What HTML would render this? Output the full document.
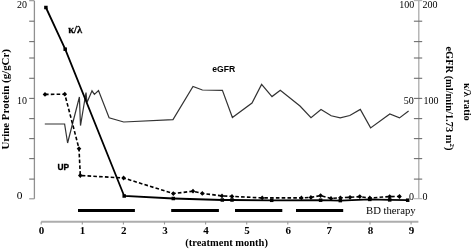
<!DOCTYPE html>
<html><head><meta charset="utf-8"><style>
html,body{margin:0;padding:0;background:#fff;width:472px;height:250px;overflow:hidden}
svg{display:block}
</style></head><body>
<svg width="472" height="250" viewBox="0 0 472 250">
<path d="M34.4 0.9V198.8" stroke="#909090" stroke-width="1.3" fill="none"/>
<path d="M29.2 0.7H34.4" stroke="#909090" stroke-width="1.1"/>
<path d="M29.2 21.2H34.4" stroke="#6e6e6e" stroke-width="1.1"/>
<path d="M29.2 41.6H34.4" stroke="#6e6e6e" stroke-width="1.1"/>
<path d="M29.2 58.0H34.4" stroke="#6e6e6e" stroke-width="1.1"/>
<path d="M29.2 78.3H34.4" stroke="#6e6e6e" stroke-width="1.1"/>
<path d="M29.2 98.4H34.4" stroke="#6e6e6e" stroke-width="1.1"/>
<path d="M29.2 118.6H34.4" stroke="#6e6e6e" stroke-width="1.1"/>
<path d="M29.2 138.6H34.4" stroke="#6e6e6e" stroke-width="1.1"/>
<path d="M29.2 158.6H34.4" stroke="#6e6e6e" stroke-width="1.1"/>
<path d="M29.2 179.1H34.4" stroke="#6e6e6e" stroke-width="1.1"/>
<path d="M29.2 198.8H34.4" stroke="#909090" stroke-width="1.1"/>
<path d="M418.8 0.9V198.8" stroke="#ababab" stroke-width="1.3" fill="none"/>
<path d="M413.9 0.6H422.2" stroke="#b0b0b0" stroke-width="1.1"/>
<path d="M413.9 21.2H422.2" stroke="#6e6e6e" stroke-width="1.1"/>
<path d="M413.9 41.6H422.2" stroke="#6e6e6e" stroke-width="1.1"/>
<path d="M413.9 58.0H422.2" stroke="#6e6e6e" stroke-width="1.1"/>
<path d="M413.9 78.3H422.2" stroke="#6e6e6e" stroke-width="1.1"/>
<path d="M413.9 98.4H422.2" stroke="#6e6e6e" stroke-width="1.1"/>
<path d="M413.9 118.6H422.2" stroke="#6e6e6e" stroke-width="1.1"/>
<path d="M413.9 138.6H422.2" stroke="#6e6e6e" stroke-width="1.1"/>
<path d="M413.9 158.6H422.2" stroke="#6e6e6e" stroke-width="1.1"/>
<path d="M413.9 179.1H422.2" stroke="#6e6e6e" stroke-width="1.1"/>
<path d="M413.9 198.7H422.2" stroke="#b0b0b0" stroke-width="1.1"/>
<path d="M41.2 221.8H418.4" stroke="#adadad" stroke-width="1.9"/>
<path d="M41.2 221.8V224.5" stroke="#9a9a9a" stroke-width="1.1"/>
<path d="M82.3 221.8V224.5" stroke="#9a9a9a" stroke-width="1.1"/>
<path d="M123.4 221.8V224.5" stroke="#9a9a9a" stroke-width="1.1"/>
<path d="M164.5 221.8V224.5" stroke="#9a9a9a" stroke-width="1.1"/>
<path d="M205.6 221.8V224.5" stroke="#9a9a9a" stroke-width="1.1"/>
<path d="M246.7 221.8V224.5" stroke="#9a9a9a" stroke-width="1.1"/>
<path d="M287.8 221.8V224.5" stroke="#9a9a9a" stroke-width="1.1"/>
<path d="M328.9 221.8V224.5" stroke="#9a9a9a" stroke-width="1.1"/>
<path d="M370.0 221.8V224.5" stroke="#9a9a9a" stroke-width="1.1"/>
<path d="M411.1 221.8V224.5" stroke="#9a9a9a" stroke-width="1.1"/>
<rect x="78" y="209" width="56.9" height="3" fill="#000"/>
<rect x="171.2" y="209" width="47.7" height="3" fill="#000"/>
<rect x="235" y="209" width="47.3" height="3" fill="#000"/>
<rect x="296" y="209" width="47.2" height="3" fill="#000"/>
<polyline points="44.8,124 64.6,124 67.6,143 79.4,97 80.5,125.6 86,92.5 87,102.5 92,90.8 94.4,94.4 98.5,90.5 109.1,117.8 123.7,122 173,119.6 193,86.4 202.4,90 222.4,90.4 232.4,117.5 252,103 261.6,84.4 272,96.6 280.3,90.2 300,106 311,117.6 321,109.6 331.2,115.8 340.2,117.8 349.8,115.5 360.3,109.4 370.6,127.9 389.8,113.9 399.5,117.9 408.6,111" fill="none" stroke="#333" stroke-width="1.2" stroke-linejoin="miter"/>
<polyline points="45,94.4 64.8,94.2 79,148.7 80.3,175.5 123.6,178 173.3,193.6 193,191.2 202.3,193.4 222,195.9 232,196.4 262.2,197.9 301.4,197.9 310.9,197.4 320.6,195.6 331,198.4 340.4,197.8 350,197.3 359.8,196.6 369.8,198 389.7,196.6 399.5,196.5" fill="none" stroke="#000" stroke-width="1.6" stroke-dasharray="3.6 2.2"/>
<path d="M42.7 94.4L45 92.0L47.3 94.4L45 96.80000000000001Z" fill="#000"/>
<path d="M62.5 94.2L64.8 91.8L67.1 94.2L64.8 96.60000000000001Z" fill="#000"/>
<path d="M76.7 148.7L79 146.29999999999998L81.3 148.7L79 151.1Z" fill="#000"/>
<path d="M78.0 175.5L80.3 173.1L82.6 175.5L80.3 177.9Z" fill="#000"/>
<path d="M121.3 178L123.6 175.6L125.89999999999999 178L123.6 180.4Z" fill="#000"/>
<path d="M171.0 193.6L173.3 191.2L175.60000000000002 193.6L173.3 196.0Z" fill="#000"/>
<path d="M190.7 191.2L193 188.79999999999998L195.3 191.2L193 193.6Z" fill="#000"/>
<path d="M200.0 193.4L202.3 191.0L204.60000000000002 193.4L202.3 195.8Z" fill="#000"/>
<path d="M219.7 195.9L222 193.5L224.3 195.9L222 198.3Z" fill="#000"/>
<path d="M229.7 196.4L232 194.0L234.3 196.4L232 198.8Z" fill="#000"/>
<path d="M259.9 197.9L262.2 195.5L264.5 197.9L262.2 200.3Z" fill="#000"/>
<path d="M299.09999999999997 197.9L301.4 195.5L303.7 197.9L301.4 200.3Z" fill="#000"/>
<path d="M308.59999999999997 197.4L310.9 195.0L313.2 197.4L310.9 199.8Z" fill="#000"/>
<path d="M318.3 195.6L320.6 193.2L322.90000000000003 195.6L320.6 198.0Z" fill="#000"/>
<path d="M328.7 198.4L331 196.0L333.3 198.4L331 200.8Z" fill="#000"/>
<path d="M338.09999999999997 197.8L340.4 195.4L342.7 197.8L340.4 200.20000000000002Z" fill="#000"/>
<path d="M347.7 197.3L350 194.9L352.3 197.3L350 199.70000000000002Z" fill="#000"/>
<path d="M357.5 196.6L359.8 194.2L362.1 196.6L359.8 199.0Z" fill="#000"/>
<path d="M367.5 198L369.8 195.6L372.1 198L369.8 200.4Z" fill="#000"/>
<path d="M387.4 196.6L389.7 194.2L392.0 196.6L389.7 199.0Z" fill="#000"/>
<path d="M397.2 196.5L399.5 194.1L401.8 196.5L399.5 198.9Z" fill="#000"/>
<polyline points="45.9,7.5 65.2,49.2 124.2,196 173.3,198.5 222.3,200 232,200 271.7,200.3 320.6,200.2 340.3,200.6 369.8,199.4 389.7,199.9 407.7,200.2" fill="none" stroke="#000" stroke-width="1.8"/>
<rect x="44.15" y="5.75" width="3.5" height="3.5" fill="#000"/>
<rect x="63.45" y="47.45" width="3.5" height="3.5" fill="#000"/>
<rect x="122.45" y="194.25" width="3.5" height="3.5" fill="#000"/>
<rect x="171.55" y="196.75" width="3.5" height="3.5" fill="#000"/>
<rect x="220.55" y="198.25" width="3.5" height="3.5" fill="#000"/>
<rect x="230.25" y="198.25" width="3.5" height="3.5" fill="#000"/>
<rect x="269.95" y="198.55" width="3.5" height="3.5" fill="#000"/>
<rect x="318.85" y="198.45" width="3.5" height="3.5" fill="#000"/>
<rect x="338.55" y="198.85" width="3.5" height="3.5" fill="#000"/>
<rect x="368.05" y="197.65" width="3.5" height="3.5" fill="#000"/>
<rect x="387.95" y="198.15" width="3.5" height="3.5" fill="#000"/>
<rect x="405.95" y="198.45" width="3.5" height="3.5" fill="#000"/>
<text x="27.0" y="8.3" style="font-family:'Liberation Serif','Times New Roman',serif;font-size:11.4px" text-anchor="end" textLength="10" lengthAdjust="spacingAndGlyphs">20</text>
<text x="27.1" y="103.6" style="font-family:'Liberation Serif','Times New Roman',serif;font-size:11.4px" text-anchor="end" textLength="10" lengthAdjust="spacingAndGlyphs">10</text>
<text x="16.8" y="199.2" style="font-family:'Liberation Serif','Times New Roman',serif;font-size:11.4px" text-anchor="start" >0</text>
<text x="414.2" y="8" style="font-family:'Liberation Serif','Times New Roman',serif;font-size:10px" text-anchor="end" >100</text>
<text x="413.8" y="104" style="font-family:'Liberation Serif','Times New Roman',serif;font-size:10px" text-anchor="end" >50</text>
<text x="414" y="199.9" style="font-family:'Liberation Serif','Times New Roman',serif;font-size:10px" text-anchor="end" >0</text>
<text x="422.6" y="8" style="font-family:'Liberation Serif','Times New Roman',serif;font-size:10px" text-anchor="start" >200</text>
<text x="423.4" y="104" style="font-family:'Liberation Serif','Times New Roman',serif;font-size:10px" text-anchor="start" >100</text>
<text x="422.6" y="199.9" style="font-family:'Liberation Serif','Times New Roman',serif;font-size:10px" text-anchor="start" >0</text>
<text x="41.5" y="233.9" style="font-family:'Liberation Serif','Times New Roman',serif;font-size:11px;font-weight:bold" text-anchor="middle" >0</text>
<text x="82.6" y="233.9" style="font-family:'Liberation Serif','Times New Roman',serif;font-size:11px;font-weight:bold" text-anchor="middle" >1</text>
<text x="123.7" y="233.9" style="font-family:'Liberation Serif','Times New Roman',serif;font-size:11px;font-weight:bold" text-anchor="middle" >2</text>
<text x="164.9" y="233.9" style="font-family:'Liberation Serif','Times New Roman',serif;font-size:11px;font-weight:bold" text-anchor="middle" >3</text>
<text x="206.0" y="233.9" style="font-family:'Liberation Serif','Times New Roman',serif;font-size:11px;font-weight:bold" text-anchor="middle" >4</text>
<text x="247.1" y="233.9" style="font-family:'Liberation Serif','Times New Roman',serif;font-size:11px;font-weight:bold" text-anchor="middle" >5</text>
<text x="288.2" y="233.9" style="font-family:'Liberation Serif','Times New Roman',serif;font-size:11px;font-weight:bold" text-anchor="middle" >6</text>
<text x="329.3" y="233.9" style="font-family:'Liberation Serif','Times New Roman',serif;font-size:11px;font-weight:bold" text-anchor="middle" >7</text>
<text x="370.5" y="233.9" style="font-family:'Liberation Serif','Times New Roman',serif;font-size:11px;font-weight:bold" text-anchor="middle" >8</text>
<text x="411.6" y="233.9" style="font-family:'Liberation Serif','Times New Roman',serif;font-size:11px;font-weight:bold" text-anchor="middle" >9</text>
<text x="185.3" y="246.3" style="font-family:'Liberation Serif','Times New Roman',serif;font-size:11px;font-weight:bold" text-anchor="start" textLength="82.6" lengthAdjust="spacingAndGlyphs">(treatment month)</text>
<text x="366" y="214" style="font-family:'Liberation Serif','Times New Roman',serif;font-size:10.7px" text-anchor="start" textLength="49.6" lengthAdjust="spacingAndGlyphs">BD therapy</text>
<text x="68.3" y="32.8" style="font-family:'Liberation Serif','Times New Roman',serif;font-size:10px;font-weight:bold;stroke:#000;stroke-width:0.3px" text-anchor="start" textLength="13.8" lengthAdjust="spacingAndGlyphs">κ/λ</text>
<text x="57.4" y="169.6" style="font-family:'Liberation Sans',Arial,sans-serif;font-size:9.6px;font-weight:bold;stroke:#000;stroke-width:0.35px" text-anchor="start" textLength="11.6" lengthAdjust="spacingAndGlyphs">UP</text>
<text x="212.3" y="72" style="font-family:'Liberation Sans',Arial,sans-serif;font-size:9.8px;font-weight:bold" text-anchor="start" textLength="23" lengthAdjust="spacingAndGlyphs">eGFR</text>
<text transform="translate(8.6,149.6) rotate(-90)" style="font-family:'Liberation Serif','Times New Roman',serif;font-size:11.4px;font-weight:bold" textLength="100.6" lengthAdjust="spacingAndGlyphs">Urine Protein (g/gCr)</text>
<text transform="translate(446.2,46.4) rotate(90)" style="font-family:'Liberation Serif','Times New Roman',serif;font-size:10.5px;font-weight:bold" textLength="104" lengthAdjust="spacingAndGlyphs">eGFR (ml/min/1.73 m<tspan dy="-3.5" style="font-size:7px">2</tspan><tspan dy="3.5">)</tspan></text>
<text transform="translate(463.6,83) rotate(90)" style="font-family:'Liberation Serif','Times New Roman',serif;font-size:10.5px;font-weight:bold" textLength="37.8" lengthAdjust="spacingAndGlyphs">κ/λ ratio</text>
</svg>
</body></html>
